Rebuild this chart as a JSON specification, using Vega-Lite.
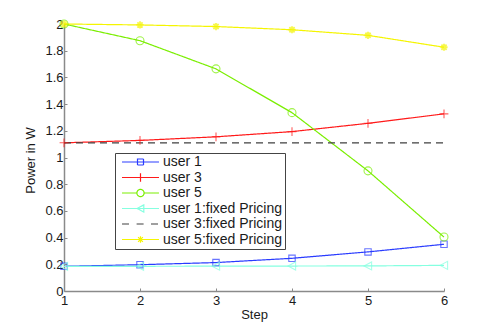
{
  "$schema": "https://vega.github.io/schema/vega-lite/v6.json",
  "width": 380,
  "height": 267,
  "autosize": {"type": "none"},
  "padding": {"left": 64, "top": 24, "right": 47, "bottom": 36},
  "background": "white",
  "data": {
    "values": [
      {"step": 1, "power": 0.185, "series": "user 1"},
      {"step": 2, "power": 0.197, "series": "user 1"},
      {"step": 3, "power": 0.213, "series": "user 1"},
      {"step": 4, "power": 0.245, "series": "user 1"},
      {"step": 5, "power": 0.293, "series": "user 1"},
      {"step": 6, "power": 0.35, "series": "user 1"},
      {"step": 1, "power": 1.11, "series": "user 3"},
      {"step": 2, "power": 1.128, "series": "user 3"},
      {"step": 3, "power": 1.155, "series": "user 3"},
      {"step": 4, "power": 1.194, "series": "user 3"},
      {"step": 5, "power": 1.256, "series": "user 3"},
      {"step": 6, "power": 1.327, "series": "user 3"},
      {"step": 1, "power": 2.0, "series": "user 5"},
      {"step": 2, "power": 1.875, "series": "user 5"},
      {"step": 3, "power": 1.664, "series": "user 5"},
      {"step": 4, "power": 1.336, "series": "user 5"},
      {"step": 5, "power": 0.9, "series": "user 5"},
      {"step": 6, "power": 0.404, "series": "user 5"},
      {"step": 1, "power": 0.185, "series": "user 1:fixed Pricing"},
      {"step": 2, "power": 0.185, "series": "user 1:fixed Pricing"},
      {"step": 3, "power": 0.186, "series": "user 1:fixed Pricing"},
      {"step": 4, "power": 0.187, "series": "user 1:fixed Pricing"},
      {"step": 5, "power": 0.188, "series": "user 1:fixed Pricing"},
      {"step": 6, "power": 0.192, "series": "user 1:fixed Pricing"},
      {"step": 1, "power": 1.11, "series": "user 3:fixed Pricing"},
      {"step": 2, "power": 1.11, "series": "user 3:fixed Pricing"},
      {"step": 3, "power": 1.11, "series": "user 3:fixed Pricing"},
      {"step": 4, "power": 1.11, "series": "user 3:fixed Pricing"},
      {"step": 5, "power": 1.11, "series": "user 3:fixed Pricing"},
      {"step": 6, "power": 1.11, "series": "user 3:fixed Pricing"},
      {"step": 1, "power": 2.0, "series": "user 5:fixed Pricing"},
      {"step": 2, "power": 1.993, "series": "user 5:fixed Pricing"},
      {"step": 3, "power": 1.981, "series": "user 5:fixed Pricing"},
      {"step": 4, "power": 1.957, "series": "user 5:fixed Pricing"},
      {"step": 5, "power": 1.915, "series": "user 5:fixed Pricing"},
      {"step": 6, "power": 1.826, "series": "user 5:fixed Pricing"}
    ]
  },
  "encoding": {
    "x": {
      "field": "step", "type": "quantitative",
      "scale": {"domain": [1, 6], "nice": false, "zero": false},
      "axis": {"values": [1, 2, 3, 4, 5, 6], "format": "~g", "title": "Step", "titlePadding": 1, "labelPadding": 6}
    },
    "y": {
      "field": "power", "type": "quantitative",
      "scale": {"domain": [0, 2], "nice": false},
      "axis": {"values": [0, 0.2, 0.4, 0.6, 0.8, 1, 1.2, 1.4, 1.6, 1.8, 2], "format": "~g", "title": "Power in W", "titlePadding": 7, "titleY": 136}
    },
    "color": {
      "field": "series", "type": "nominal",
      "legend": {"title": null},
      "scale": {
        "domain": ["user 1", "user 3", "user 5", "user 1:fixed Pricing", "user 3:fixed Pricing", "user 5:fixed Pricing"],
        "range": ["#2a3cff", "#ff1a1a", "#7aee00", "#85ffe0", "#404040", "#f5f500"]
      }
    }
  },
  "layer": [
    {
      "mark": {"type": "line", "strokeWidth": 1.2},
      "encoding": {
        "strokeDash": {
          "field": "series", "type": "nominal", "legend": null,
          "scale": {
            "domain": ["user 1", "user 3", "user 5", "user 1:fixed Pricing", "user 3:fixed Pricing", "user 5:fixed Pricing"],
            "range": [[1, 0], [1, 0], [1, 0], [1, 0], [7, 5], [1, 0]]
          }
        },
        "order": {"field": "step"}
      }
    },
    {
      "transform": [{"filter": "datum.series != 'user 3:fixed Pricing'"}],
      "mark": {"type": "point", "filled": false, "size": 64},
      "encoding": {
        "strokeWidth": {
          "condition": {"test": "datum.series == 'user 5:fixed Pricing'", "value": 1.8},
          "value": 1.1
        },
        "shape": {
          "condition": [
            {"test": "datum.series == 'user 1'", "value": "M-0.8,-0.8H0.8V0.8H-0.8Z"},
            {"test": "datum.series == 'user 3'", "value": "M-1.1,0H1.1M0,-1.1V1.1"},
            {"test": "datum.series == 'user 5'", "value": "M1,0A1,1 0 1,1 -1,0A1,1 0 1,1 1,0"},
            {"test": "datum.series == 'user 1:fixed Pricing'", "value": "M-1,0L0.9,-1L0.9,1Z"}
          ],
          "value": "M-0.9,0H0.9M0,-0.9V0.9M-0.65,-0.65L0.65,0.65M-0.65,0.65L0.65,-0.65"
        }
      }
    },
    {
      "mark": {"type": "point", "filled": false, "strokeWidth": 1.2},
      "encoding": {
        "size": {"value": 0},
        "shape": {
          "field": "series", "type": "nominal",
          "legend": {"title": null},
          "scale": {
            "domain": ["user 1", "user 3", "user 5", "user 1:fixed Pricing", "user 3:fixed Pricing", "user 5:fixed Pricing"],
            "range": [
              "M-0.33,0H5.83M2.25,-0.5H3.25V0.5H2.25Z",
              "M-0.33,0H5.83M2.75,-0.7V0.7",
              "M-0.33,0H2.15M3.35,0H5.83M3.35,0A0.6,0.6 0 1,1 2.15,0A0.6,0.6 0 1,1 3.35,0",
              "M-0.33,0H5.83M2.2,0L3.3,-0.6L3.3,0.6Z",
              "M-0.33,0H1M2.1,0H3.4M4.5,0H5.83",
              "M-0.33,0H5.83M2.2,0H3.3M2.75,-0.55V0.55M2.35,-0.4L3.15,0.4M2.35,0.4L3.15,-0.4"
            ]
          }
        }
      }
    }
  ],
  "config": {
    "view": {"stroke": null},
    "font": "Liberation Sans",
    "axis": {
      "grid": false,
      "domainColor": "#8a8a8a",
      "domainWidth": 1.5,
      "tickColor": "#8a8a8a",
      "tickWidth": 1,
      "tickSize": -3,
      "labelFont": "Liberation Sans",
      "labelFontSize": 13,
      "labelColor": "#1a1a1a",
      "labelPadding": 5,
      "labelFlush": false,
      "labelOverlap": false,
      "titleFont": "Liberation Sans",
      "titleFontSize": 13,
      "titleFontWeight": "normal",
      "titleColor": "#1a1a1a"
    },
    "axisY": {"labelPadding": 4},
    "legend": {
      "orient": "none",
      "legendX": 51,
      "legendY": 129,
      "strokeColor": "#444",
      "fillColor": "white",
      "padding": 2,
      "symbolSize": 144,
      "symbolStrokeWidth": 1.2,
      "symbolFillColor": "transparent",
      "symbolOpacity": 1,
      "labelFont": "Liberation Sans",
      "labelFontSize": 14,
      "labelColor": "#1a1a1a",
      "labelOffset": 32,
      "rowPadding": 1.5
    }
  }
}
